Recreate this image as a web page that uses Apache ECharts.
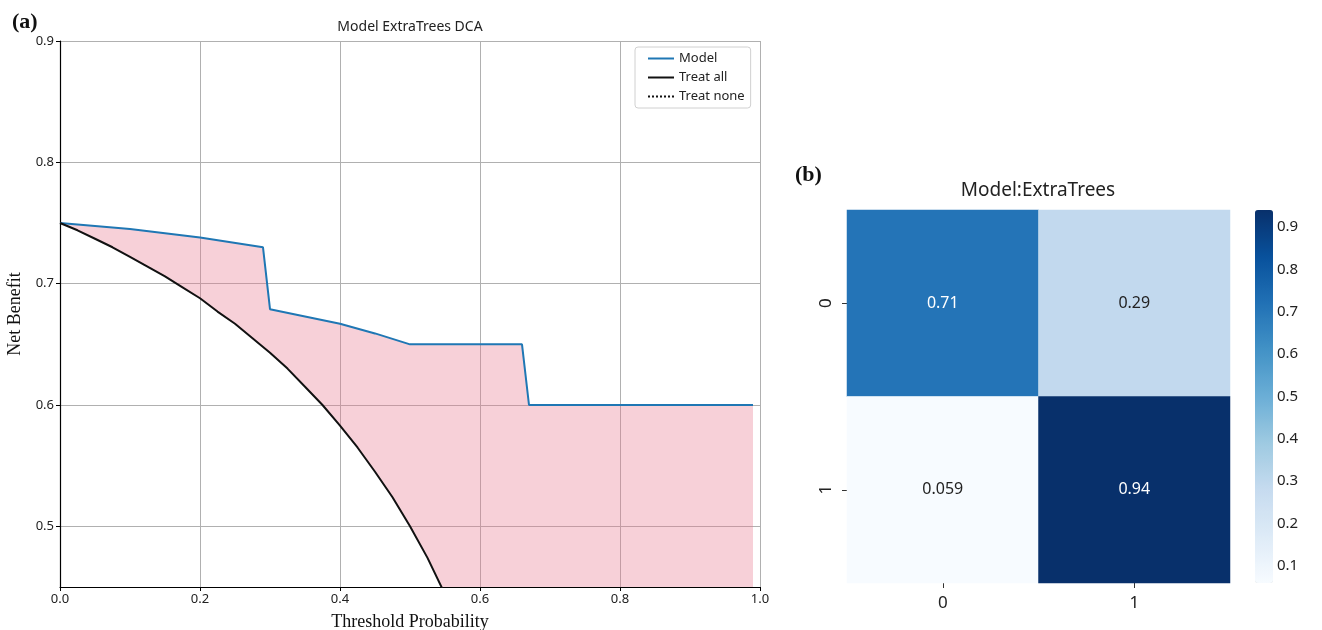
<!DOCTYPE html>
<html>
<head>
<meta charset="utf-8">
<script src="https://cdn.jsdelivr.net/npm/echarts@6/dist/echarts.min.js"></script>
<style>
  html, body { margin: 0; padding: 0; background: #fff; }
  #main { width: 1322px; height: 630px; }
</style>
</head>
<body>
<div id="main"></div>
<script>
// DCA curves
const modelX = [0, 0.1, 0.2, 0.29, 0.30, 0.35, 0.40, 0.45, 0.50, 0.66, 0.67, 0.99];
const modelY = [0.750, 0.745, 0.738, 0.730, 0.679, 0.673, 0.667, 0.659, 0.650, 0.650, 0.600, 0.600];
const treatAllX = [0, 0.025, 0.05, 0.075, 0.10, 0.125, 0.15, 0.175, 0.20, 0.225, 0.25, 0.275, 0.30,
  0.325, 0.35, 0.375, 0.40, 0.425, 0.45, 0.475, 0.50, 0.525, 0.55, 0.575, 0.60];
const treatAllY = [0.750, 0.744, 0.737, 0.730, 0.722, 0.714, 0.706, 0.697, 0.688, 0.677, 0.667, 0.655, 0.643,
  0.630, 0.615, 0.600, 0.583, 0.565, 0.545, 0.524, 0.500, 0.474, 0.444, 0.412, 0.375];
const treatNoneX = [0, 0.99];
const treatNoneY = [0, 0];
const yTicks = [0.5, 0.6, 0.7, 0.8, 0.9];
const yMin = 0.45, yMax = 0.9;

// confusion matrix
const cmLabels = ['0', '1'];
const cmValues = [
  [0.71, 0.29],
  [0.059, 0.94]
];
const cbTicks = [0.1, 0.2, 0.3, 0.4, 0.5, 0.6, 0.7, 0.8, 0.9];
const cbMin = 0.059, cbMax = 0.94;
const blues = ['#f7fbff', '#deebf7', '#c6dbef', '#9ecae1', '#6baed6', '#4292c6', '#2171b5', '#08519c', '#08306b'];

const zip = (xs, ys) => xs.map((x, i) => [x, ys[i]]);
const heatData = [];
cmValues.forEach((row, r) => row.forEach((v, c) => heatData.push([c, r, v])));

const sans = 'Noto Sans';
const serif = 'Liberation Serif';

let myChart = echarts.init(document.getElementById('main'));
myChart.setOption({
  animation: false,
  textStyle: { fontFamily: sans },
  graphic: [
    { type: 'text', left: 12, top: 11, style: { text: '(a)', font: 'bold 22px "Liberation Serif"', fill: '#111' } },
    { type: 'text', left: 795, top: 164, style: { text: '(b)', font: 'bold 22px "Liberation Serif"', fill: '#111' } },
    { type: 'text', x: 410, y: 20, style: { text: 'Model ExtraTrees DCA', font: '14px "Noto Sans"', fill: '#222', align: 'center' } },
    { type: 'text', x: 1038, y: 181, style: { text: 'Model:ExtraTrees', font: '19px "Noto Sans"', fill: '#222', align: 'center' } }
  ],
  legend: {
    data: ['Model', 'Treat all', 'Treat none'],
    orient: 'vertical',
    left: 635, top: 47,
    itemWidth: 26, itemHeight: 12, itemGap: 6,
    padding: [5, 6, 5, 12],
    backgroundColor: '#fff',
    borderColor: '#d0d0d0', borderWidth: 1, borderRadius: 3,
    itemStyle: { opacity: 0 },
    textStyle: { fontSize: 13, color: '#222', fontFamily: sans }
  },
  grid: [
    { left: 60, top: 41, width: 700, height: 546, outerBoundsMode: 'none' },
    { left: 847, top: 210, width: 383, height: 373, outerBoundsMode: 'none' },
    { left: 1255, top: 210, width: 18, height: 373, outerBoundsMode: 'none' }
  ],
  xAxis: [
    {
      gridIndex: 0, type: 'value', min: 0, max: 1, interval: 0.2,
      name: 'Threshold Probability', nameLocation: 'middle', nameGap: 26,
      nameTextStyle: { fontFamily: serif, fontSize: 18, color: '#111' },
      axisLine: { lineStyle: { color: '#000', width: 1.2 } },
      axisTick: { show: true, length: 4, lineStyle: { color: '#000' } },
      axisLabel: { color: '#222', fontSize: 13, margin: 6, formatter: v => v.toFixed(1) },
      splitLine: { show: true, lineStyle: { color: '#b0b0b0', width: 1 } }
    },
    {
      gridIndex: 1, type: 'category', data: cmLabels,
      axisLine: { show: false },
      axisTick: { show: true, alignWithLabel: true, length: 5, lineStyle: { color: '#333' } },
      axisLabel: { color: '#222', fontSize: 17, margin: 12 },
      splitLine: { show: false }
    },
    { gridIndex: 2, type: 'value', show: false }
  ],
  yAxis: [
    {
      gridIndex: 0, type: 'value', min: yMin, max: yMax, interval: 0.05,
      name: 'Net Benefit', nameLocation: 'middle', nameGap: 32,
      nameTextStyle: { fontFamily: serif, fontSize: 18, color: '#111' },
      axisLine: { show: true, lineStyle: { color: '#000', width: 1.2 } },
      axisTick: { show: true, length: 4, customValues: yTicks, lineStyle: { color: '#000' } },
      axisLabel: { color: '#222', fontSize: 13, margin: 6, customValues: yTicks, formatter: v => v.toFixed(1) },
      splitLine: { show: true, lineStyle: { color: '#b0b0b0', width: 1 } }
    },
    {
      gridIndex: 1, type: 'category', data: cmLabels, inverse: true,
      axisLine: { show: false },
      axisTick: { show: true, alignWithLabel: true, length: 5, lineStyle: { color: '#333' } },
      axisLabel: { color: '#222', fontSize: 17, rotate: 90, margin: 12 },
      splitLine: { show: false }
    },
    {
      gridIndex: 2, type: 'value', position: 'right', min: cbMin, max: cbMax, interval: 0.1,
      axisLine: { show: false },
      axisTick: { show: true, length: 4, customValues: cbTicks, lineStyle: { color: '#333' } },
      axisLabel: { color: '#222', fontSize: 15, margin: 4, customValues: cbTicks, formatter: v => v.toFixed(1) },
      splitLine: { show: false }
    }
  ],
  visualMap: {
    type: 'continuous',
    seriesIndex: 4,
    min: cbMin, max: cbMax,
    calculable: false,
    left: 1255, top: 210,
    itemWidth: 18, itemHeight: 373,
    padding: 0,
    text: null,
    showLabel: false,
    inRange: { color: blues }
  },
  series: [
    {
      name: 'fill',
      type: 'custom',
      xAxisIndex: 0, yAxisIndex: 0,
      clip: true,
      silent: true,
      z: 1,
      data: [0],
      renderItem(params, api) {
        const pts = zip(modelX, modelY).map(p => api.coord(p));
        pts.push(api.coord([modelX[modelX.length - 1], yMin]));
        zip(treatAllX, treatAllY).reverse().forEach(p => pts.push(api.coord(p)));
        return {
          type: 'polygon',
          shape: { points: pts },
          style: { fill: 'rgba(232,121,144,0.35)' }
        };
      }
    },
    {
      name: 'Model', type: 'line', xAxisIndex: 0, yAxisIndex: 0,
      data: zip(modelX, modelY), symbol: 'none', z: 3,
      lineStyle: { color: '#1f77b4', width: 2 }, itemStyle: { color: '#1f77b4' }
    },
    {
      name: 'Treat all', type: 'line', xAxisIndex: 0, yAxisIndex: 0,
      data: zip(treatAllX, treatAllY), symbol: 'none', z: 3,
      lineStyle: { color: '#111', width: 2 }, itemStyle: { color: '#111' }
    },
    {
      name: 'Treat none', type: 'line', xAxisIndex: 0, yAxisIndex: 0,
      data: zip(treatNoneX, treatNoneY), symbol: 'none', z: 3,
      lineStyle: { color: '#111', width: 1.5, type: 'dotted' }, itemStyle: { color: '#111' }
    },
    {
      name: 'cm', type: 'heatmap', xAxisIndex: 1, yAxisIndex: 1,
      data: heatData.map(d => ({ value: d, label: { color: d[2] > 0.5 ? '#fff' : '#222' } })),
      label: {
        show: true, fontSize: 16, fontFamily: sans,
        formatter: p => String(p.value[2])
      }
    }
  ]
});
</script>
</body>
</html>
